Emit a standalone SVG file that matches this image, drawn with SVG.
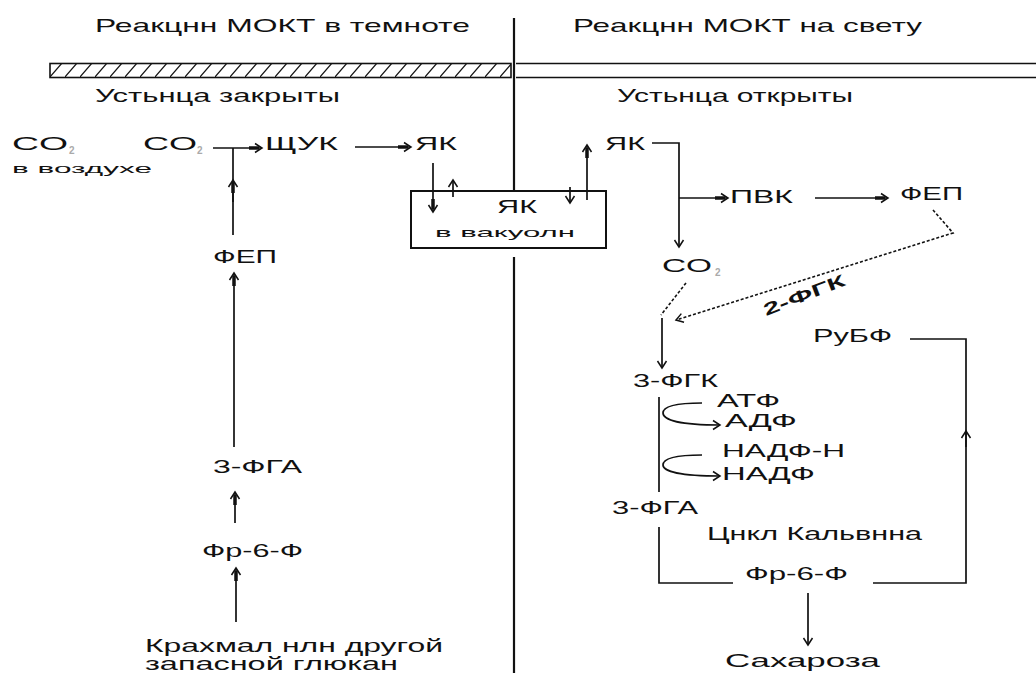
<svg xmlns="http://www.w3.org/2000/svg" width="1036" height="673" viewBox="0 0 1036 673">
<style>
text{font-family:"Liberation Sans",Arial,sans-serif;font-size:17.5px;fill:#111;}
.t{font-size:19px;}
.s{font-size:13.5px;}
.sub{font-size:10px;fill:#aaa;font-weight:bold;}
.ln{fill:none;stroke:#111;stroke-width:1.7;}
.dv{fill:none;stroke:#111;stroke-width:2.2;}
.ds{fill:none;stroke:#111;stroke-width:1.6;stroke-dasharray:3,2;}
.a{marker-end:url(#arr);}
.at{marker-end:url(#arrT);}
</style>
<defs>
<marker id="arr" markerUnits="userSpaceOnUse" viewBox="-12 -6 14 12" refX="0" refY="0" markerWidth="14" markerHeight="12" orient="auto" overflow="visible">
<path d="M-7,-4.5 L0,0 L-7,4.5" fill="none" stroke="#111" stroke-width="1.5"/>
</marker>
<marker id="arrT" markerUnits="userSpaceOnUse" viewBox="-14 -6 16 12" refX="0" refY="0" markerWidth="16" markerHeight="12" orient="auto" overflow="visible">
<path d="M-7,-4.5 L0,0 L-7,4.5" fill="none" stroke="#111" stroke-width="1.5"/>
<path d="M-13,0 L-3,0" stroke="#111" stroke-width="3.5"/>
</marker>
<pattern id="hatch" patternUnits="userSpaceOnUse" x="50" y="63" width="15" height="14">
<path d="M0,14 L12,0" stroke="#111" stroke-width="1.2"/>
</pattern>
</defs>

<g id="headers">
<text class="t" x="95" y="32" textLength="375" lengthAdjust="spacingAndGlyphs">Реакцнн МОКТ в темноте</text>
<text class="t" x="573" y="32" textLength="349" lengthAdjust="spacingAndGlyphs">Реакцнн МОКТ на свету</text>
<rect x="50" y="63.5" width="461" height="14" fill="url(#hatch)" stroke="#111" stroke-width="1.6"/>
<path class="ln" d="M516,63.5 H1036 M516,77.5 H1036"/>
<text x="95" y="102" textLength="245" lengthAdjust="spacingAndGlyphs">Устьнца закрыты</text>
<text x="617" y="102" textLength="236" lengthAdjust="spacingAndGlyphs">Устьнца открыты</text>
</g>

<g id="connectors">
<path class="dv" d="M514,18 V191 M514,257 V673"/>
<path class="ln at" d="M213,148 H262"/>
<path class="ln" d="M233,148 V235"/>
<path class="ln at" d="M233,202 V180"/>
<path class="ln at" d="M234,447 V273"/>
<path class="ln at" d="M235,523 V492"/>
<path class="ln at" d="M236,622 V568"/>
<path class="ln at" d="M355,147 H411"/>
<path class="ln at" d="M433,163 V212"/>
<path class="ln a" d="M453,197 V180"/>
<path class="ln a" d="M570,187 V203"/>
<path class="ln at" d="M587,200 V145"/>
<path class="ln a" d="M652,143 H679 V247"/>
<path class="ln at" d="M679,198 H728"/>
<path class="ln at" d="M815,198 H888"/>
<path class="ds a" d="M933,210 L953,233 L676,320"/>
<path class="ds" d="M686,283 L661,315"/>
<path class="ln a" d="M662,318 V368"/>
<path class="ln" d="M659,397 V492"/>
<path class="ln a" d="M702,403 C674,403 663,407 663,413 C663,420 680,425 720,425"/>
<path class="ln a" d="M702,455 C674,455 663,459 663,465 C663,471 680,476 720,476"/>
<path class="ln" d="M659,527 V583 H733"/>
<path class="ln" d="M873,583 H966 V339 H910"/>
<path class="ln a" d="M966,447 V431"/>
<path class="ln a" d="M808,593 V645"/>
</g>

<g id="co2-air">
<text x="12" y="150" textLength="56" lengthAdjust="spacingAndGlyphs">CO</text>
<text class="sub" x="69" y="154">2</text>
<text class="s" x="12" y="173" textLength="140" lengthAdjust="spacingAndGlyphs">в воздухе</text>
</g>
<g id="co2-left">
<text x="143" y="150" textLength="54" lengthAdjust="spacingAndGlyphs">CO</text>
<text class="sub" x="197" y="154">2</text>
</g>
<g id="shchuk"><text x="265" y="150" textLength="73" lengthAdjust="spacingAndGlyphs">ЩУК</text></g>
<g id="yak-left"><text x="415" y="150" textLength="42" lengthAdjust="spacingAndGlyphs">ЯК</text></g>
<g id="vacuole">
<rect x="411" y="191" width="195" height="57" fill="none" stroke="#111" stroke-width="2"/>
<text x="497" y="213" textLength="40" lengthAdjust="spacingAndGlyphs">ЯК</text>
<text class="s" x="435" y="237" textLength="140" lengthAdjust="spacingAndGlyphs">в вакуолн</text>
</g>
<g id="fep-left"><text x="213" y="263" textLength="64" lengthAdjust="spacingAndGlyphs">ФЕП</text></g>
<g id="fga-left"><text x="213" y="473" textLength="89" lengthAdjust="spacingAndGlyphs">3-ФГА</text></g>
<g id="fr6f-left"><text x="202" y="557" textLength="101" lengthAdjust="spacingAndGlyphs">Фр-6-Ф</text></g>
<g id="starch">
<text x="145" y="652" textLength="298" lengthAdjust="spacingAndGlyphs">Крахмал нлн другой</text>
<text x="145" y="670" textLength="253" lengthAdjust="spacingAndGlyphs">запасной глюкан</text>
</g>

<g id="yak-right"><text x="605" y="150" textLength="40" lengthAdjust="spacingAndGlyphs">ЯК</text></g>
<g id="pvk"><text x="730" y="203" textLength="63" lengthAdjust="spacingAndGlyphs">ПВК</text></g>
<g id="fep-right"><text x="900" y="200" textLength="63" lengthAdjust="spacingAndGlyphs">ФЕП</text></g>
<g id="co2-right">
<text x="662" y="272" textLength="50" lengthAdjust="spacingAndGlyphs">CO</text>
<text class="sub" x="715" y="276">2</text>
</g>
<g id="fgk2"><text x="0" y="0" transform="translate(766,316) rotate(-21)" textLength="86" lengthAdjust="spacingAndGlyphs" style="font-weight:bold;font-size:17px">2-ФГК</text></g>
<g id="fgk3"><text x="633" y="387" textLength="85" lengthAdjust="spacingAndGlyphs">3-ФГК</text></g>
<g id="rubf"><text x="813" y="342" textLength="79" lengthAdjust="spacingAndGlyphs">РуБФ</text></g>
<g id="atf"><text x="717" y="407" textLength="63" lengthAdjust="spacingAndGlyphs">АТФ</text></g>
<g id="adf"><text x="725" y="427" textLength="72" lengthAdjust="spacingAndGlyphs">АДФ</text></g>
<g id="nadfh"><text x="722" y="457" textLength="123" lengthAdjust="spacingAndGlyphs">НАДФ-Н</text></g>
<g id="nadf"><text x="722" y="480" textLength="93" lengthAdjust="spacingAndGlyphs">НАДФ</text></g>
<g id="fga-right"><text x="612" y="514" textLength="86" lengthAdjust="spacingAndGlyphs">3-ФГА</text></g>
<g id="calvin"><text x="707" y="540" textLength="215" lengthAdjust="spacingAndGlyphs">Цнкл Кальвнна</text></g>
<g id="fr6f-right"><text x="745" y="580" textLength="103" lengthAdjust="spacingAndGlyphs">Фр-6-Ф</text></g>
<g id="sucrose"><text x="725" y="667" textLength="155" lengthAdjust="spacingAndGlyphs">Сахароза</text></g>
</svg>
